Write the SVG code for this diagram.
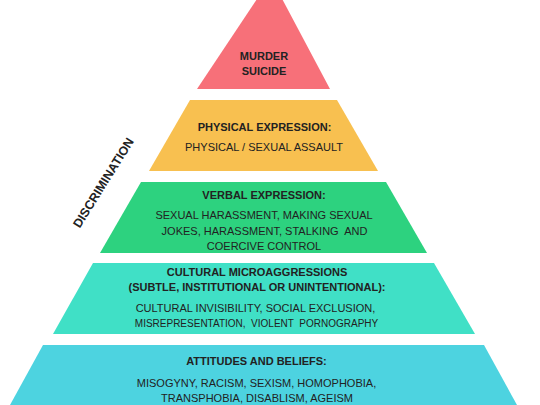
<svg xmlns="http://www.w3.org/2000/svg" width="540" height="405" viewBox="0 0 540 405">
<style>
text{font-family:"Liberation Sans",Arial,sans-serif;fill:#222222;text-anchor:middle;font-size:11px}
.b{font-weight:bold}
</style>
<rect width="540" height="405" fill="#ffffff"/>
<g id="murder">
<polygon points="271,-22 330,89 197,89" fill="#F77079"/>
<text class="b" x="264" y="60">MURDER</text>
<text class="b" x="264" y="75">SUICIDE</text>
</g>
<g id="physical">
<polygon points="190,100 337,100 378,171 149,171" fill="#F8C050"/>
<text class="b" x="264.5" y="131">PHYSICAL EXPRESSION:</text>
<text x="264" y="151">PHYSICAL / SEXUAL ASSAULT</text>
</g>
<g id="verbal">
<polygon points="141,182 386,182 427,253 100,253" fill="#2DD27F"/>
<text class="b" x="264" y="199">VERBAL EXPRESSION:</text>
<text x="264" y="219">SEXUAL HARASSMENT, MAKING SEXUAL</text>
<text x="264.5" y="235" xml:space="preserve">JOKES, HARASSMENT, STALKING  AND</text>
<text x="264" y="250">COERCIVE CONTROL</text>
</g>
<g id="cultural">
<polygon points="93,263 434,263 475,334 53,334" fill="#40E0C6"/>
<text class="b" x="257" y="275.5">CULTURAL MICROAGGRESSIONS</text>
<text class="b" x="257" y="291">(SUBTLE, INSTITUTIONAL OR UNINTENTIONAL):</text>
<text x="255.5" y="312">CULTURAL INVISIBILITY, SOCIAL EXCLUSION,</text>
<text x="256.5" y="327" style="font-size:10px" xml:space="preserve">MISREPRESENTATION,  VIOLENT  PORNOGRAPHY</text>
</g>
<g id="attitudes">
<polygon points="43,345 484,345 517,405 10,405" fill="#4DD3E0"/>
<text class="b" x="256.5" y="365">ATTITUDES AND BELIEFS:</text>
<text x="256.5" y="387">MISOGYNY, RACISM, SEXISM, HOMOPHOBIA,</text>
<text x="257" y="402">TRANSPHOBIA, DISABLISM, AGEISM</text>
</g>
<g id="discrimination">
<text class="b" transform="translate(107,185) rotate(-58)" style="font-size:12.5px">DISCRIMINATION</text>
</g>
<g id="connectors"></g>
</svg>
